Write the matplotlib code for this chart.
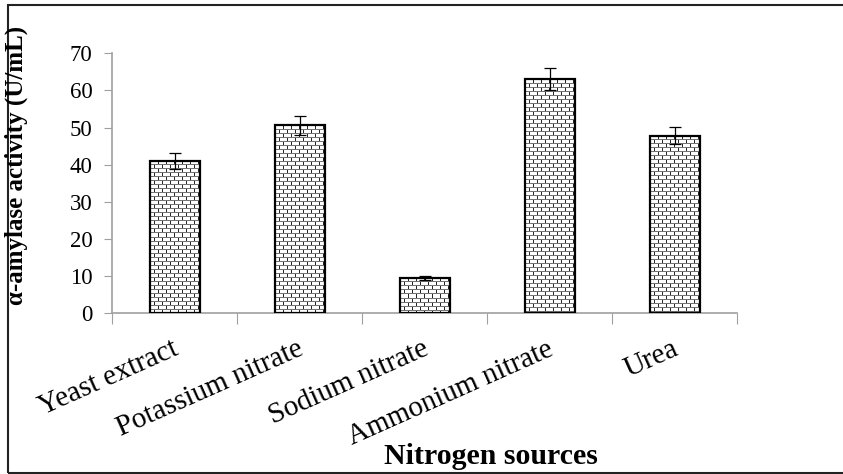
import numpy as np
import matplotlib.pyplot as plt
from matplotlib.patches import Rectangle

# nitrogen source screening: enzyme activity with std. error
sources = ['Yeast extract', 'Potassium nitrate', 'Sodium nitrate',
           'Ammonium nitrate', 'Urea']
activity = [41.0, 50.6, 9.5, 63.0, 47.8]
errors = [2.1, 2.5, 0.5, 3.0, 2.3]
yticks = [0, 10, 20, 30, 40, 50, 60, 70]


def brick_tile(h, w, row=4, brick=8):
    """Grey-scale brick texture, h x w pixels."""
    img = np.ones((h, w))
    r, c = np.indices((h, w))
    course = r // row
    img[(r % row) == 0] = 0.45
    shift = np.where(course % 2 == 0, 0, brick // 2)
    vert = ((c + shift) % brick) == 0
    img[vert & ((r % row) != 0)] = 0.15
    return img


plt.rcParams['font.family'] = ['Liberation Serif', 'DejaVu Serif']

fig = plt.figure(figsize=(8.43, 4.74), dpi=100)
ax = fig.add_axes([112 / 843, 1 - 313.3 / 474, 625 / 843, 260 / 474])

x = np.arange(len(sources))
width = 0.4
bars = ax.bar(x, activity, width=width, color='white', zorder=2)

# fill each bar with a brick texture sized to its pixel extent
px_per_unit = 260 / 70.0
for b in bars:
    x0, w, h = b.get_x(), b.get_width(), b.get_height()
    hp = max(int(round(h * px_per_unit)), 1)
    wp = int(round(w * 125))
    im = ax.imshow(brick_tile(hp, wp)[::-1], cmap='gray', vmin=0, vmax=1,
                   extent=(x0, x0 + w, 0, h), origin='lower',
                   interpolation='nearest', aspect='auto', zorder=2.5)
    im.set_clip_path(b)

ax.bar(x, activity, width=width, fill=False, edgecolor='black',
       linewidth=1.6, zorder=3)
ax.errorbar(x, activity, yerr=errors, fmt='none', ecolor='black',
            elinewidth=0.9, capsize=4, capthick=0.9, zorder=4)

ax.set_xlim(-0.5, len(sources) - 0.5)
ax.set_ylim(0, 70)
ax.set_yticks(yticks)
ax.tick_params(axis='y', labelsize=16.5, length=6, color='#a0a0a0',
               labelcolor='black', pad=8)

# category ticks sit between the bars
ax.set_xticks(np.arange(len(sources) + 1) - 0.5)
ax.set_xticklabels([])
ax.tick_params(axis='x', length=8, color='#a0a0a0')
for xi, name in zip(x, sources):
    ax.annotate(name, xy=(xi, 0), xycoords=('data', 'axes fraction'),
                xytext=(2, -25), textcoords='offset points',
                rotation=24, rotation_mode='anchor', ha='right', va='center',
                fontsize=21)

for side in ('top', 'right'):
    ax.spines[side].set_visible(False)
for side in ('left', 'bottom'):
    ax.spines[side].set_color('#a0a0a0')
    ax.spines[side].set_linewidth(1.2)

fig.text(16 / 843, 1 - 165 / 474, 'α-amylase activity (U/mL)', fontsize=18,
         fontweight='bold', rotation=90, ha='center', va='center')
fig.text(491 / 843, 1 - 457 / 474, 'Nitrogen sources', fontsize=21.5,
         fontweight='bold', ha='center', va='center')

# outer frame around the whole figure
fig.patches.append(Rectangle((8 / 843, 1.5 / 474), 840 / 843, 468 / 474,
                             transform=fig.transFigure, fill=False,
                             edgecolor='#222222', linewidth=1.5))

fig.savefig('out.png', dpi=100)
